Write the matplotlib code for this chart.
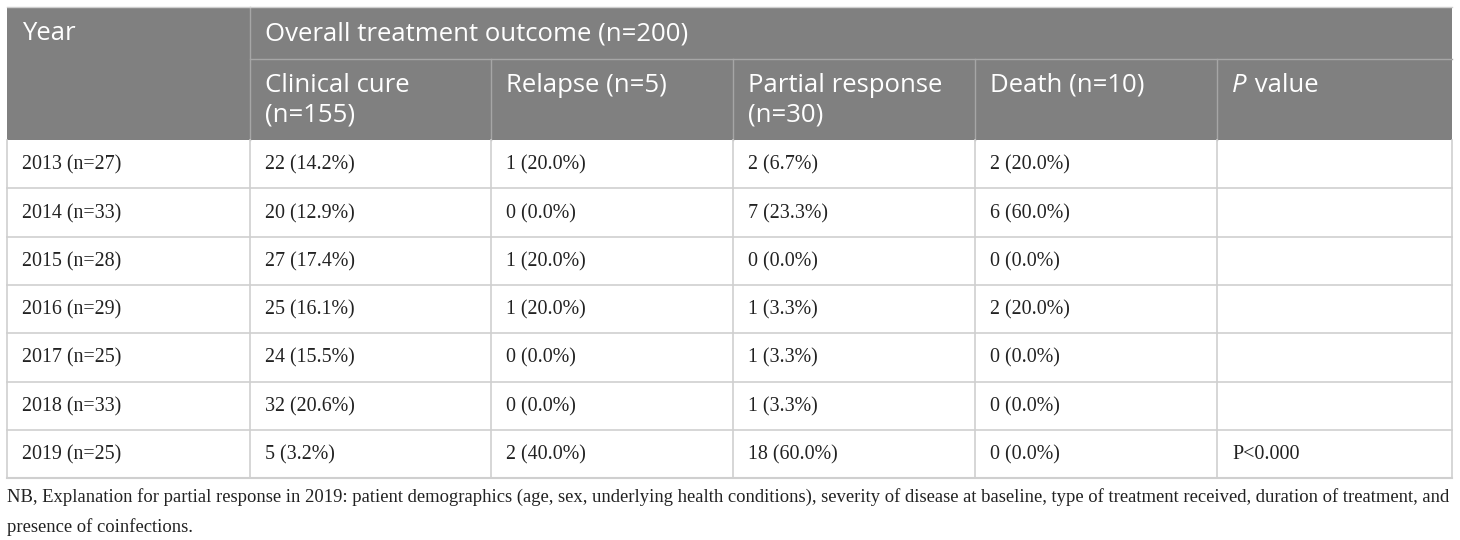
import matplotlib
matplotlib.use("Agg")
from matplotlib import pyplot as plt
from matplotlib.patches import Rectangle

# table content
years = [2013, 2014, 2015, 2016, 2017, 2018, 2019]
year_n = [27, 33, 28, 29, 25, 33, 25]
cure_n = [22, 20, 27, 25, 24, 32, 5]
cure_pct = [14.2, 12.9, 17.4, 16.1, 15.5, 20.6, 3.2]
relapse_n = [1, 0, 1, 1, 0, 0, 2]
relapse_pct = [20.0, 0.0, 20.0, 20.0, 0.0, 0.0, 40.0]
partial_n = [2, 7, 0, 1, 1, 1, 18]
partial_pct = [6.7, 23.3, 0.0, 3.3, 3.3, 3.3, 60.0]
death_n = [2, 6, 0, 2, 0, 0, 0]
death_pct = [20.0, 60.0, 0.0, 20.0, 0.0, 0.0, 0.0]
p_values = ["", "", "", "", "", "", "P<0.000"]

group_header = "Overall treatment outcome (n=200)"
sub_headers = [["Clinical cure", "(n=155)"], ["Relapse (n=5)"], ["Partial response", "(n=30)"],
               ["Death (n=10)"], None]
footnote = ["NB, Explanation for partial response in 2019: patient demographics (age, sex, underlying health conditions), "
            "severity of disease at baseline, type of treatment received, duration of treatment, and",
            "presence of coinfections."]

# layout in pixels
col_x = [7, 250, 491, 733, 975, 1217, 1452]
top, head1, head_bot = 7, 59, 140
row_h = 48.3
pad = 15
hdr_fill = "#808080"
hdr_line = "#a6a6a6"
body_line = "#cfcfcf"
hdr_fs = 18.5
sans = ["Open Sans", "DejaVu Sans"]
serif = ["Liberation Serif", "DejaVu Serif"]

fig = plt.figure(figsize=(14.6, 5.4), dpi=100)
ax = fig.add_axes([0, 0, 1, 1])
ax.set_xlim(0, 1460)
ax.set_ylim(540, 0)
ax.axis("off")

# header background
ax.add_patch(Rectangle((col_x[0], top), col_x[-1] - col_x[0], head_bot - top,
                       facecolor=hdr_fill, edgecolor="none"))
ax.plot([col_x[1], col_x[-1]], [head1, head1], color=hdr_line, lw=1)
ax.plot([col_x[1], col_x[1]], [top, head_bot], color=hdr_line, lw=1)
for x in col_x[2:-1]:
    ax.plot([x, x], [head1, head_bot], color=hdr_line, lw=1)

ax.text(col_x[0] + pad, 34, "Year", color="white", fontsize=hdr_fs, family=sans, va="center")
ax.text(col_x[1] + pad, 34, group_header, color="white", fontsize=hdr_fs, family=sans, va="center")
for i, h in enumerate(sub_headers):
    x = col_x[i + 1] + pad
    if h is None:
        ax.text(x, 85, "P", color="white", fontsize=hdr_fs, family=sans, style="italic", va="center")
        ax.text(x + 16, 85, " value", color="white", fontsize=hdr_fs, family=sans, va="center")
        continue
    for k, line in enumerate(h):
        ax.text(x, 85 + 30 * k, line, color="white", fontsize=hdr_fs, family=sans, va="center")

# body rows
n_rows = len(years)
bottom = head_bot + row_h * n_rows
for i in range(n_rows):
    yc = head_bot + row_h * (i + 0.5) + 1
    cells = [f"{years[i]} (n={year_n[i]})",
             f"{cure_n[i]} ({cure_pct[i]:.1f}%)",
             f"{relapse_n[i]} ({relapse_pct[i]:.1f}%)",
             f"{partial_n[i]} ({partial_pct[i]:.1f}%)",
             f"{death_n[i]} ({death_pct[i]:.1f}%)",
             p_values[i]]
    for j, c in enumerate(cells):
        ax.text(col_x[j] + pad, yc, c, fontsize=14.4, family=serif, color="#222222", va="center")
    if i > 0:
        yl = head_bot + row_h * i
        ax.plot([col_x[0], col_x[-1]], [yl, yl], color=body_line, lw=1.2)

for x in col_x:
    ax.plot([x, x], [head_bot, bottom], color=body_line, lw=1.2)
ax.plot([col_x[0], col_x[-1]], [bottom, bottom], color=body_line, lw=1.5)
ax.plot([col_x[0], col_x[-1]], [top, top], color=body_line, lw=1)

for k, line in enumerate(footnote):
    ax.text(col_x[0], 497 + 30 * k, line, fontsize=13.4, family=serif, color="#222222", va="center")

fig.savefig("out.png", dpi=100)
